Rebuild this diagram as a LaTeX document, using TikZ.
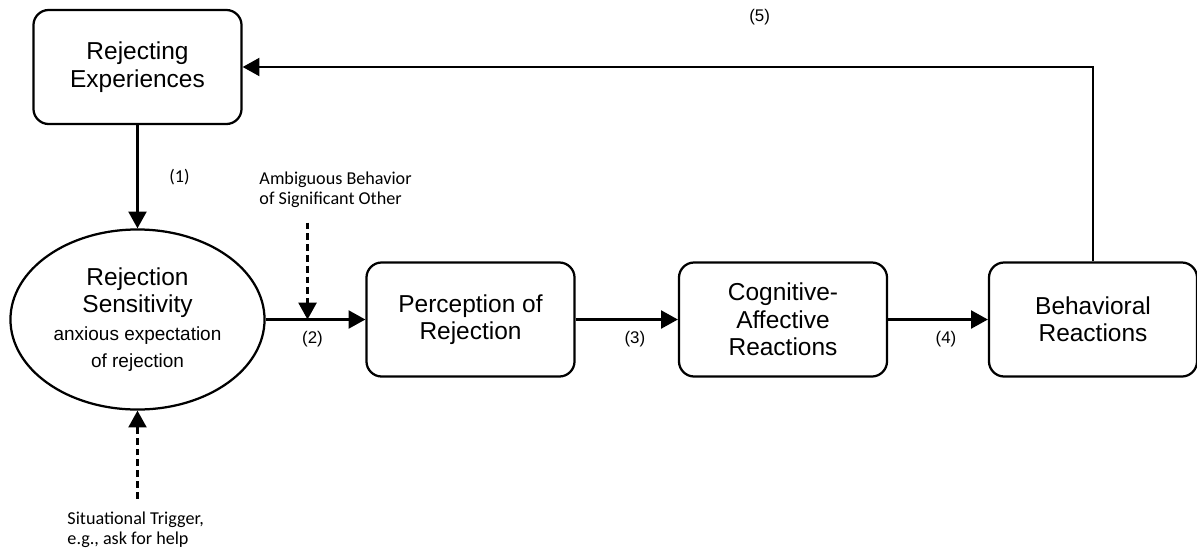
\documentclass[tikz,border=0pt]{standalone}
\usepackage{fontspec}
\setmainfont{Liberation Sans}
\newfontfamily\notefont{Carlito}
\usetikzlibrary{calc,arrows.meta,shapes.geometric}

\tikzset{
    stagebox/.style={draw, rounded corners=3.8mm, line width=1.6pt, minimum width=5.2cm, minimum height=2.85cm, align=center, font=\fontsize{17.4}{19.5}\selectfont},
    flow/.style={line width=1.6pt, -{Triangle[length=4.2mm, width=4.5mm]}},
    hint/.style={flow, dash pattern=on 1.7mm off 1mm},
    num/.style={font=\fontsize{12}{14}\selectfont},
    note/.style={align=left, font=\notefont\fontsize{12.9}{14.2}\selectfont}
}
\newcommand{\subline}[1]{{\fontsize{13.5}{15}\selectfont #1}}

\begin{document}
\begin{tikzpicture}[x=0.025cm, y=-0.025cm]
    \useasboundingbox (0, 0) rectangle (1197, 548);

    \node [stagebox] (RE) at (137.5, 67) {Rejecting\\Experiences};
        \node [draw, ellipse, line width=1.6pt, inner sep=0pt, minimum width=6.35cm, minimum height=4.5cm, align=center, font=\fontsize{17.4}{19.5}\selectfont] (RS) at ($(RE) + (0, 252.5)$) {Rejection\\Sensitivity\\\subline{anxious expectation}\\\subline{of rejection}};
    \node [stagebox] (PR) at ($(RS) + (333, 0)$) {Perception of\\Rejection};
    \node [stagebox] (CA) at ($(PR) + (312.5, 0)$) {Cognitive-\\Affective\\Reactions};
    \node [stagebox] (BR) at ($(CA) + (310, 0)$) {Behavioral\\Reactions};

    % moderating triggers
    \coordinate (amb) at ($(RS.east)!0.42!(PR.west)$);
    \coordinate (ambtop) at ($(amb) + (0, -97)$);
    \coordinate (trig) at ($(RS.south) + (0, 88)$);
        \node [note, anchor=west] (AB) at ($(ambtop) + (-53, -33)$) {Ambiguous Behavior\\of Significant Other};
        \node [note, anchor=west] (ST) at ($(trig) + (-75, 31)$) {Situational Trigger,\\e.g., ask for help};

    \draw [flow] (RE) -- node[right=6.5mm, note] {(1)} (RS);
    \draw [flow] (RS.east) -- node[pos=0.47, below=1.5mm, num] {(2)} (PR.west);
    \draw [flow] (PR) -- node[pos=0.58, below=1.5mm, num] {(3)} (CA);
    \draw [flow] (CA) -- node[pos=0.58, below=1.5mm, num] {(4)} (BR);
    \draw [flow] (BR.north) |- node[pos=0.696, above=9mm, num] {(5)} (RE.east);
        \draw [hint] (ambtop) -- (amb);
        \draw [hint] (trig) -- (RS.south);
\end{tikzpicture}
\end{document}
